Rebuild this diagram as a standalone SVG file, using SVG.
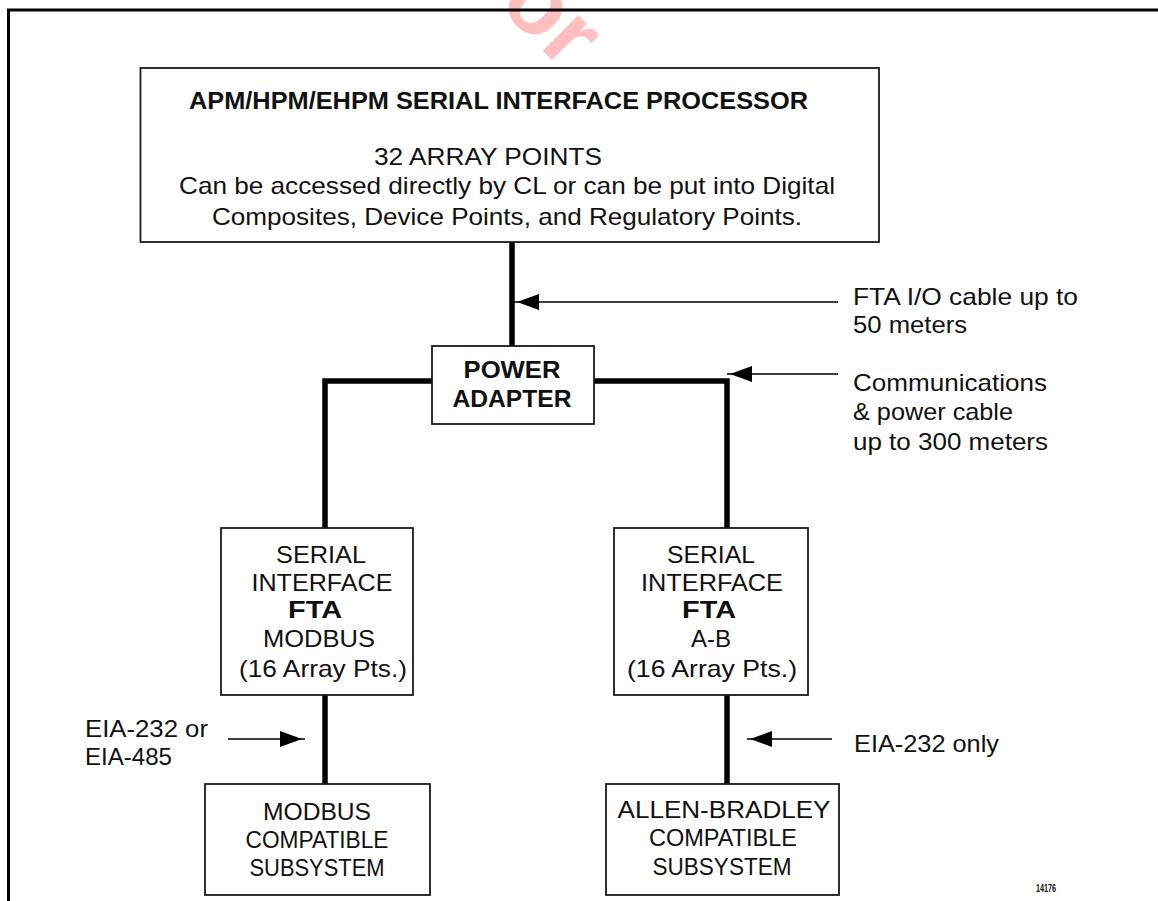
<svg xmlns="http://www.w3.org/2000/svg" width="1158" height="901" viewBox="0 0 1158 901">
<style>
.t{font-family:"Liberation Sans",Arial,sans-serif;font-size:24px;fill:#111}
.b{font-weight:bold}
.c{text-anchor:middle}
.box{fill:#fff;stroke:#1a1a1a;stroke-width:1.8}
.thick{fill:none;stroke:#000;stroke-width:5.5;stroke-linejoin:miter}
.thin{fill:none;stroke:#000;stroke-width:1.5}
.wm{font-family:"Liberation Sans",Arial,sans-serif;font-weight:bold;font-size:95px;fill:#ff0000;fill-opacity:0.25}
</style>
<defs>
<marker id="ah" markerUnits="userSpaceOnUse" markerWidth="30" markerHeight="20" refX="25" refY="8" orient="auto" viewBox="0 0 30 20">
<path d="M0,0 L22,8 L0,16 Z" fill="#000"/>
</marker>
</defs>
<rect width="1158" height="901" fill="#fff"/>
<g id="watermark">
<text class="wm" transform="translate(538,46) rotate(45)" x="-116" y="0">For</text>
</g>
<g id="frame">
<path d="M8.5,901 V10 H1158" fill="none" stroke="#000" stroke-width="3"/>
</g>
<g id="connectors">
<path class="thick" d="M512,242 V346"/>
<path class="thick" d="M325,528 V381 H432"/>
<path class="thick" d="M594,381 H727 V528"/>
<path class="thick" d="M325,695 V784"/>
<path class="thick" d="M727,695 V784"/>
<line class="thin" x1="838" y1="302" x2="514" y2="302" marker-end="url(#ah)"/>
<line class="thin" x1="838" y1="374" x2="727" y2="374" marker-end="url(#ah)"/>
<line class="thin" x1="228" y1="739" x2="305" y2="739" marker-end="url(#ah)"/>
<line class="thin" x1="832" y1="739" x2="747" y2="739" marker-end="url(#ah)"/>
</g>
<g id="sip">
<rect class="box" x="140.5" y="68" width="738.5" height="174"/>
<text class="t b" x="189" y="109" textLength="619" lengthAdjust="spacingAndGlyphs">APM/HPM/EHPM SERIAL INTERFACE PROCESSOR</text>
<text class="t" x="374" y="165" textLength="228" lengthAdjust="spacingAndGlyphs">32 ARRAY POINTS</text>
<text class="t" x="179" y="194" textLength="656" lengthAdjust="spacingAndGlyphs">Can be accessed directly by CL or can be put into Digital</text>
<text class="t" x="212" y="225" textLength="590" lengthAdjust="spacingAndGlyphs">Composites, Device Points, and Regulatory Points.</text>
</g>
<g id="power-adapter">
<rect class="box" x="432" y="346" width="162" height="78"/>
<text class="t b c" x="512" y="378" textLength="97" lengthAdjust="spacingAndGlyphs">POWER</text>
<text class="t b c" x="512" y="407" textLength="119" lengthAdjust="spacingAndGlyphs">ADAPTER</text>
</g>
<g id="fta-modbus">
<rect class="box" x="221" y="528" width="192" height="167"/>
<text class="t c" x="321" y="563" textLength="90" lengthAdjust="spacingAndGlyphs">SERIAL</text>
<text class="t c" x="322" y="591" textLength="141" lengthAdjust="spacingAndGlyphs">INTERFACE</text>
<text class="t b c" x="315" y="618" textLength="54" lengthAdjust="spacingAndGlyphs">FTA</text>
<text class="t c" x="319" y="647" textLength="112" lengthAdjust="spacingAndGlyphs">MODBUS</text>
<text class="t c" x="323" y="677" textLength="168" lengthAdjust="spacingAndGlyphs">(16 Array Pts.)</text>
</g>
<g id="fta-ab">
<rect class="box" x="614" y="528" width="194" height="167"/>
<text class="t c" x="711" y="563" textLength="88" lengthAdjust="spacingAndGlyphs">SERIAL</text>
<text class="t c" x="712" y="591" textLength="142" lengthAdjust="spacingAndGlyphs">INTERFACE</text>
<text class="t b c" x="709" y="618" textLength="54" lengthAdjust="spacingAndGlyphs">FTA</text>
<text class="t c" x="711" y="647">A-B</text>
<text class="t c" x="712" y="677" textLength="170" lengthAdjust="spacingAndGlyphs">(16 Array Pts.)</text>
</g>
<g id="modbus-subsystem">
<rect class="box" x="205" y="784" width="225" height="111"/>
<text class="t c" x="317" y="820" textLength="108" lengthAdjust="spacingAndGlyphs">MODBUS</text>
<text class="t c" x="317" y="848" textLength="143" lengthAdjust="spacingAndGlyphs">COMPATIBLE</text>
<text class="t c" x="317" y="876" textLength="135" lengthAdjust="spacingAndGlyphs">SUBSYSTEM</text>
</g>
<g id="ab-subsystem">
<rect class="box" x="606" y="784" width="233" height="111"/>
<text class="t c" x="724" y="818" textLength="213" lengthAdjust="spacingAndGlyphs">ALLEN-BRADLEY</text>
<text class="t c" x="723" y="846" textLength="148" lengthAdjust="spacingAndGlyphs">COMPATIBLE</text>
<text class="t c" x="722" y="875" textLength="139" lengthAdjust="spacingAndGlyphs">SUBSYSTEM</text>
</g>
<g id="labels">
<text class="t" x="853" y="305" textLength="225" lengthAdjust="spacingAndGlyphs">FTA I/O cable up to</text>
<text class="t" x="853" y="333" textLength="114" lengthAdjust="spacingAndGlyphs">50 meters</text>
<text class="t" x="853" y="391" textLength="194" lengthAdjust="spacingAndGlyphs">Communications</text>
<text class="t" x="853" y="420" textLength="160" lengthAdjust="spacingAndGlyphs">&amp; power cable</text>
<text class="t" x="853" y="450" textLength="195" lengthAdjust="spacingAndGlyphs">up to 300 meters</text>
<text class="t" x="85" y="737" textLength="123" lengthAdjust="spacingAndGlyphs">EIA-232 or</text>
<text class="t" x="85" y="765" textLength="87" lengthAdjust="spacingAndGlyphs">EIA-485</text>
<text class="t" x="854" y="752" textLength="145" lengthAdjust="spacingAndGlyphs">EIA-232 only</text>
<text class="t b" x="1036" y="892" textLength="20" lengthAdjust="spacingAndGlyphs" style="font-size:11px">14176</text>
</g>
</svg>
